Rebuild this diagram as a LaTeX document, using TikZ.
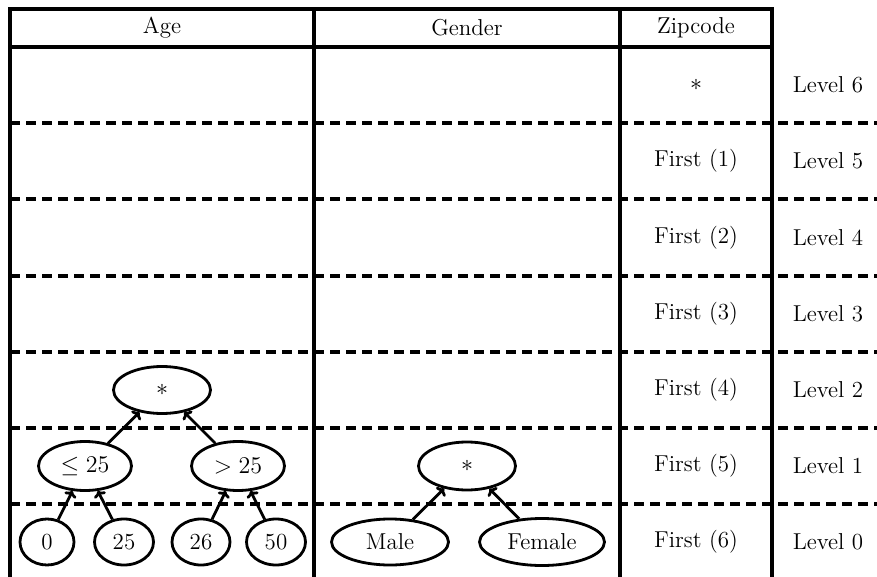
\documentclass[tikz,border=0pt]{standalone}
\usetikzlibrary{shapes.geometric,arrows.meta}
\begin{document}
\begin{tikzpicture}[x=0.5pt,y=-0.5pt,
  every node/.style={font=\fontsize{11.5}{14}\selectfont},
  rule/.style={line width=2pt, line join=miter},
  levelsep/.style={line width=1.6pt, dash pattern=on 5pt off 3pt},
  val/.style={draw, ellipse, line width=1.4pt, inner sep=0pt},
  gen/.style={line width=1.4pt, -{To[length=3pt,width=6.5pt]}}]
\useasboundingbox (0,0) rectangle (877,577);
\clip (0,0) rectangle (877,577);

% table frame and column rules
\draw[rule] (10,600) -- (10,9) -- (772,9) -- (772,600);
\draw[rule] (10,47.5) -- (772,47.5);
\draw[rule] (314,9) -- (314,600);
\draw[rule] (620,9) -- (620,600);

% level separators
\foreach \y in {123,199,276,352,428,504}
  \draw[levelsep] (10,\y) -- (880,\y);

% headers
\node (hage) at (162,28) {Age};
\node (hgen) at (467,28) {Gender};
\node (hzip) at (696,28) {Zipcode};

% zipcode generalisations and level labels
\node (z6) at (696,85) {$*$};
\foreach \k/\y in {1/161,2/237.5,3/314,4/390,5/466,6/542}
  \node (z\k) at (696,\y) {First (\k)};
\foreach \k/\y in {6/85,5/161,4/237.5,3/314,2/390,1/466,0/542}
  \node (l\k) at (828,\y) {Level \k};

% age hierarchy
\node[val, minimum width=48.5pt, minimum height=23.5pt] (atop) at (162,390) {$*$};
\node[val, minimum width=46.5pt, minimum height=24.5pt] (alow) at (85,466) {$\leq 25$};
\node[val, minimum width=46.5pt, minimum height=24.5pt] (ahigh) at (238,466) {$> 25$};
\node[val, minimum width=27pt, minimum height=23pt] (a0) at (47,542) {0};
\node[val, minimum width=29.5pt, minimum height=23pt] (a25) at (124,542) {25};
\node[val, minimum width=29pt, minimum height=23pt] (a26) at (201,542) {26};
\node[val, minimum width=29.5pt, minimum height=23pt] (a50) at (276,542) {50};
\draw[gen] (alow) -- (atop);
\draw[gen] (ahigh) -- (atop);
\draw[gen] (a0) -- (alow);
\draw[gen] (a25) -- (alow);
\draw[gen] (a26) -- (ahigh);
\draw[gen] (a50) -- (ahigh);

% gender hierarchy
\node[val, minimum width=48.5pt, minimum height=24pt] (gtop) at (467,466) {$*$};
\node[val, minimum width=58.5pt, minimum height=23pt] (gm) at (390,542) {Male};
\node[val, minimum width=62.5pt, minimum height=23.5pt] (gf) at (542,542) {Female};
\draw[gen] (gm) -- (gtop);
\draw[gen] (gf) -- (gtop);
\end{tikzpicture}
\end{document}
